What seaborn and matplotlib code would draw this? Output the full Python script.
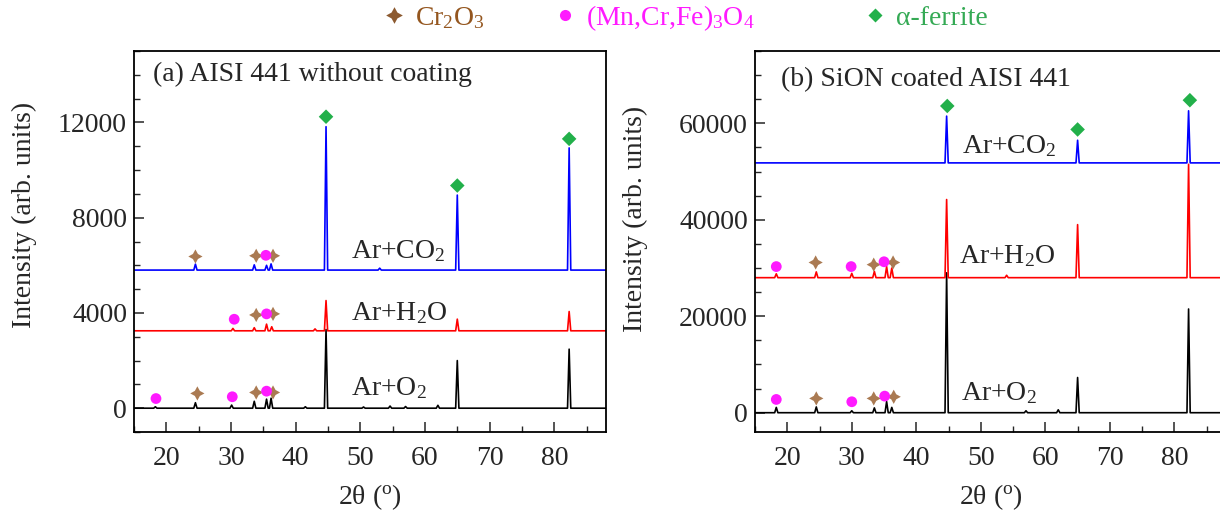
import matplotlib
matplotlib.use("Agg")
import matplotlib.pyplot as plt
import seaborn as sns
import pandas as pd
from matplotlib.lines import Line2D
from matplotlib.ticker import MultipleLocator

# ---------------- data ----------------
# panel (a): AISI 441 without coating
a_o2_base = 0
a_o2_pos = [18.3, 24.5, 30.1, 33.6, 35.5, 36.2, 41.5, 44.7, 50.5, 54.6, 57.0, 62.0, 65.0, 82.3]
a_o2_int = [60, 230, 130, 290, 380, 420, 60, 3300, 50, 90, 70, 120, 2000, 2480]

a_h2o_base = 3250
a_h2o_pos = [30.3, 33.6, 35.5, 36.3, 43.0, 44.7, 65.0, 82.3]
a_h2o_int = [3350, 3380, 3530, 3420, 3330, 4520, 3740, 4060]

a_co2_base = 5800
a_co2_pos = [24.5, 33.6, 35.5, 36.2, 44.7, 53.0, 65.0, 82.3]
a_co2_int = [6050, 6020, 6000, 6060, 11820, 5880, 8950, 10930]

a_cr_x = [24.5, 33.9, 36.5, 33.9, 36.5, 24.8, 33.9, 36.5]
a_cr_y = [6370, 6400, 6400, 3915, 3960, 620, 660, 660]
a_sp_x = [35.4, 30.5, 35.5, 18.4, 30.2, 35.5]
a_sp_y = [6420, 3735, 3960, 405, 480, 715]
a_fe_x = [44.7, 65.0, 82.3]
a_fe_y = [12240, 9350, 11310]

# panel (b): SiON coated AISI 441
b_o2_base = 0
b_o2_pos = [18.3, 24.5, 30.0, 33.5, 35.4, 36.2, 44.7, 57.0, 62.0, 65.0, 82.2]
b_o2_int = [1100, 1200, 400, 1000, 2300, 1100, 29000, 400, 600, 7300, 21500]

b_h2o_base = 28000
b_h2o_pos = [18.3, 24.5, 30.0, 33.5, 35.4, 36.2, 44.7, 54.0, 65.0, 82.2]
b_h2o_int = [28800, 29200, 28900, 29300, 30300, 30000, 44200, 28500, 39000, 51500]

b_co2_base = 51800
b_co2_pos = [44.7, 65.0, 82.2]
b_co2_int = [61500, 56500, 62600]

b_cr_x = [24.4, 33.4, 36.4, 24.5, 33.4, 36.5]
b_cr_y = [31150, 30700, 31150, 2960, 2960, 3300]
b_sp_x = [18.3, 29.9, 35.0, 18.3, 30.0, 35.1]
b_sp_y = [30300, 30300, 31300, 2750, 2270, 3440]
b_fe_x = [44.8, 65.0, 82.4]
b_fe_y = [63600, 58730, 64800]

x_ticks = [20, 30, 40, 50, 60, 70, 80]
a_yticks = [0, 4000, 8000, 12000]
b_yticks = [0, 20000, 40000, 60000]

# ---------------- style ----------------
sns.set_style("ticks")
plt.rcParams["font.family"] = ["Liberation Serif", "DejaVu Serif"]
plt.rcParams["mathtext.fontset"] = "custom"
plt.rcParams["mathtext.rm"] = "Liberation Serif"
plt.rcParams["mathtext.it"] = "Liberation Serif:italic"
plt.rcParams["xtick.direction"] = "in"
plt.rcParams["ytick.direction"] = "in"

FS = 20
C_CR = "#aa7a52"
C_CR_TXT = "#94561f"
C_SP = "#ff1aff"
C_FE = "#22b04a"


def trace(base, pos, inten, half=0.25):
    xs, ys = [15.0], [base]
    for p, h in zip(pos, inten):
        xs += [p - half, p, p + half]
        ys += [base, h, base]
    xs.append(88.0)
    ys.append(base)
    return pd.DataFrame({"2theta": xs, "I": ys})


fig = plt.figure(figsize=(12.2, 5.18), dpi=100)
W, H = 1220, 518
axa = fig.add_axes([134 / W, 1 - 432 / H, (606 - 134) / W, (432 - 51) / H])
axb = fig.add_axes([755 / W, 1 - 432 / H, (1226 - 755) / W, (432 - 51) / H])


def panel(ax, series, cr, sp, fe, ylim, yticks, ymin_step, title, title_y, labels, yl_xy):
    for (base, pos, inten, col) in series:
        df = trace(base, pos, inten)
        sns.lineplot(data=df, x="2theta", y="I", ax=ax, color=col, lw=1.2,
                     sort=False, estimator=None)
    sns.scatterplot(x=cr[0], y=cr[1], ax=ax, marker=(4, 1, 0), s=105, color=C_CR,
                    edgecolor="none", zorder=5)
    sns.scatterplot(x=sp[0], y=sp[1], ax=ax, marker="o", s=60, color=C_SP,
                    edgecolor="none", zorder=5)
    sns.scatterplot(x=fe[0], y=fe[1], ax=ax, marker="D", s=55, color=C_FE,
                    edgecolor="none", zorder=5)
    ax.set_xlim(15, 88)
    ax.set_ylim(*ylim)
    ax.set_xticks(x_ticks)
    ax.set_yticks(yticks)
    ax.xaxis.set_minor_locator(MultipleLocator(5))
    ax.yaxis.set_minor_locator(MultipleLocator(ymin_step))
    ax.tick_params(axis="both", which="major", length=7, width=1.1, labelsize=FS)
    ax.tick_params(axis="both", which="minor", length=4, width=1.0)
    ax.tick_params(axis="x", which="both", pad=10, top=False)
    ax.tick_params(axis="y", which="both", pad=5, right=False)
    for s in ax.spines.values():
        s.set_linewidth(1.3)
        s.set_color("black")
    ax.set_xlabel(r"2θ ($^{\mathrm{o}}$)", fontsize=FS, labelpad=8)
    ax.set_ylabel("Intensity (arb. units)", fontsize=FS)
    ax.yaxis.set_label_coords(*yl_xy)
    ax.text(title[0], title_y, title[1], fontsize=FS, ha="left", va="center")
    for (tx, ty, t) in labels:
        ax.text(tx, ty, t, fontsize=FS, ha="left", va="center")


panel(axa,
      [(a_o2_base, a_o2_pos, a_o2_int, "black"),
       (a_h2o_base, a_h2o_pos, a_h2o_int, "#ff0000"),
       (a_co2_base, a_co2_pos, a_co2_int, "#0000ff")],
      (a_cr_x, a_cr_y), (a_sp_x, a_sp_y), (a_fe_x, a_fe_y),
      (-1000, 15000), a_yticks, 1000,
      (18.0, "(a) AISI 441 without coating"), 14000,
      [(48.6, 6600, r"Ar+CO$_2$"), (48.6, 3990, r"Ar+H$_2$O"), (48.6, 830, r"Ar+O$_2$")],
      (-0.205, 0.57))

panel(axb,
      [(b_o2_base, b_o2_pos, b_o2_int, "black"),
       (b_h2o_base, b_h2o_pos, b_h2o_int, "#ff0000"),
       (b_co2_base, b_co2_pos, b_co2_int, "#0000ff")],
      (b_cr_x, b_cr_y), (b_sp_x, b_sp_y), (b_fe_x, b_fe_y),
      (-4000, 75000), b_yticks, 5000,
      (19.0, "(b) SiON coated AISI 441"), 69000,
      [(47.1, 55300, r"Ar+CO$_2$"), (46.6, 32400, r"Ar+H$_2$O"), (47.0, 4140, r"Ar+O$_2$")],
      (-0.228, 0.56))

# legend on top (three entries placed as in the reference)
entries = [
    (394, (4, 1, 0), 12, "#8c5a30", r"Cr$_2$O$_3$", C_CR_TXT),
    (565, "o", 8, C_SP, r"(Mn,Cr,Fe)$_3$O$_4$", C_SP),
    (875, "D", 7.5, C_FE, "α-ferrite", "#35aa55"),
]
for (mx, mk, ms, mc, lab, tc) in entries:
    h = Line2D([], [], ls="none", marker=mk, markersize=ms, color=mc, markeredgecolor="none")
    leg = fig.legend(handles=[h], labels=[lab], loc="center left",
                     bbox_to_anchor=((mx - 13.9) / W, 1 - 18 / H),
                     frameon=False, fontsize=FS, borderpad=0, borderaxespad=0,
                     handlelength=1.0, handletextpad=0.25, labelcolor=[tc])

fig.savefig("out.png", dpi=100)
